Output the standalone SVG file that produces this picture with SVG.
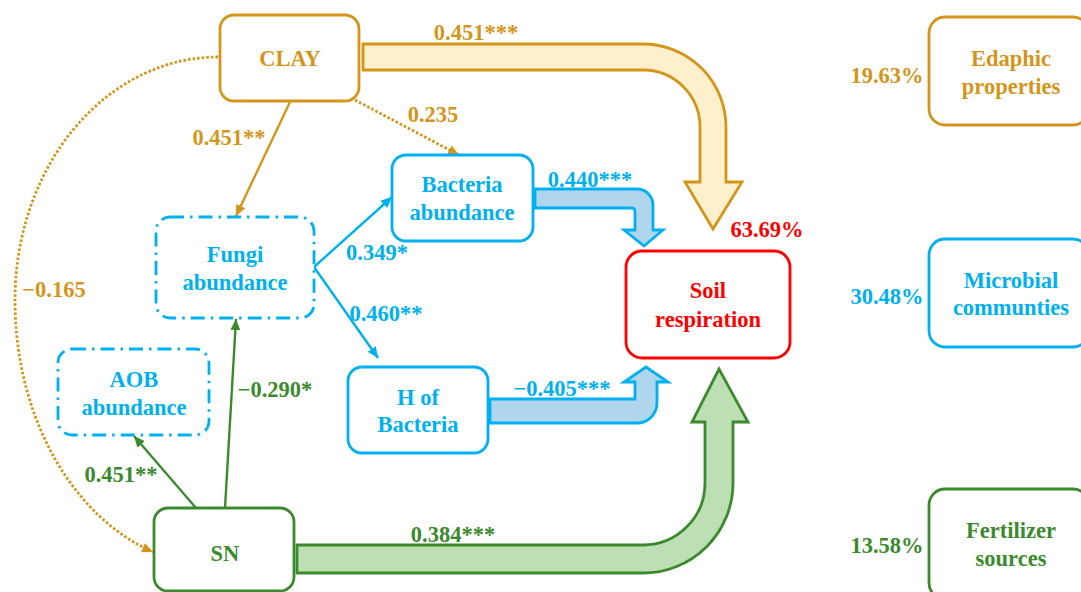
<svg xmlns="http://www.w3.org/2000/svg" width="1081" height="592" viewBox="0 0 1081 592">
<defs>
<style>
text{font-family:"Liberation Serif","Times New Roman",serif;font-weight:bold;font-size:22.5px;text-anchor:middle}
.y{fill:#D4961A}.b{fill:#00B0F0}.g{fill:#3C8A2E}.r{fill:#FF0000}
.box{fill:#fff;stroke-width:2.8}
.ys{stroke:#D4961A}.bs{stroke:#00B0F0}.gs{stroke:#3C8A2E}.rs{stroke:#FF0000}
.dd{stroke-dasharray:14 6 2.5 6}
.ln{fill:none;stroke-width:2.4}
.dot{stroke-dasharray:2.6 2;stroke-width:2.8}
</style>
<marker id="ay" markerWidth="12" markerHeight="10" refX="11" refY="5" orient="auto" markerUnits="userSpaceOnUse"><path d="M0,0 L11,5 L0,10 Z" fill="#D4961A"/></marker>
<marker id="ab" markerWidth="12" markerHeight="10" refX="11" refY="5" orient="auto" markerUnits="userSpaceOnUse"><path d="M0,0 L11,5 L0,10 Z" fill="#00B0F0"/></marker>
<marker id="ag" markerWidth="12" markerHeight="10" refX="11" refY="5" orient="auto" markerUnits="userSpaceOnUse"><path d="M0,0 L11,5 L0,10 Z" fill="#3C8A2E"/></marker>
</defs>
<rect width="1081" height="592" fill="#fff"/>

<g id="connectors">
<path d="M363,44 L643,44 A83,83 0 0 1 726,127 L726,182 L742,182 L713,229 L685,182 L700,182 L700,127 A57,57 0 0 0 643,70 L363,70 Z" fill="#FEEFCD" stroke="#D4961A" stroke-width="2.8"/>
<path d="M297,545 L643,545 A62,62 0 0 0 705,483 L705,422 L692,422 L719,369 L748,422 L733,422 L733,483 A90,90 0 0 1 643,573 L297,573 Z" fill="#BCDFB4" stroke="#3C8A2E" stroke-width="2.8"/>
<path d="M535,189 L637,189 A16,16 0 0 1 653,205 L653,230 L663,230 L644,246 L624,230 L635,230 L635,211 A3,3 0 0 0 632,208 L535,208 Z" fill="#AFD6EC" stroke="#00B0F0" stroke-width="2.8"/>
<path d="M490,399 L635,399 L635,382 L624,382 L646,367 L668,382 L657,382 L657,403 A20,20 0 0 1 637,423 L490,423 Z" fill="#AFD6EC" stroke="#00B0F0" stroke-width="2.8"/>

<line class="ln ys" x1="290" y1="102" x2="236" y2="216" marker-end="url(#ay)"/>
<line class="ln ys dot" x1="355" y1="100" x2="459" y2="155" marker-end="url(#ay)"/>
<path class="ln ys dot" d="M218,57 A203,243 0 0 0 15,300 A203,265 0 0 0 153,552" marker-end="url(#ay)"/>
<line class="ln bs" x1="314" y1="267" x2="392" y2="197" marker-end="url(#ab)"/>
<line class="ln bs" x1="314" y1="267" x2="378" y2="358" marker-end="url(#ab)"/>
<line class="ln gs" x1="196" y1="508" x2="134" y2="436" marker-end="url(#ag)"/>
<line class="ln gs" x1="225" y1="508" x2="236" y2="319" marker-end="url(#ag)"/>

<text class="y" x="476" y="40">0.451***</text>
<text class="y" x="229" y="145">0.451**</text>
<text class="y" x="433" y="122">0.235</text>
<text class="y" x="54" y="297">−0.165</text>
<text class="b" x="377" y="260">0.349*</text>
<text class="b" x="386" y="321">0.460**</text>
<text class="b" x="590" y="187">0.440***</text>
<text class="b" x="562" y="396">−0.405***</text>
<text class="g" x="275" y="397">−0.290*</text>
<text class="g" x="121" y="482">0.451**</text>
<text class="g" x="453" y="542">0.384***</text>
</g>

<g id="clay">
<rect class="box ys" x="220" y="15" width="139" height="86" rx="14"/>
<text class="y" x="290" y="66">CLAY</text>
</g>
<g id="bacteria-abundance">
<rect class="box bs" x="392" y="155" width="141" height="86" rx="14"/>
<text class="b" x="462" y="192">Bacteria</text>
<text class="b" x="462" y="220">abundance</text>
</g>
<g id="fungi-abundance">
<rect class="box bs dd" x="156" y="217" width="158" height="101" rx="14"/>
<text class="b" x="235" y="262">Fungi</text>
<text class="b" x="235" y="290">abundance</text>
</g>
<g id="aob-abundance">
<rect class="box bs dd" x="58" y="349" width="151" height="86" rx="14"/>
<text class="b" x="134" y="387">AOB</text>
<text class="b" x="134" y="415">abundance</text>
</g>
<g id="h-of-bacteria">
<rect class="box bs" x="348" y="367" width="140" height="86" rx="14"/>
<text class="b" x="418" y="405">H of</text>
<text class="b" x="418" y="432">Bacteria</text>
</g>
<g id="sn">
<rect class="box gs" x="154" y="508" width="140" height="83" rx="14"/>
<text class="g" x="225" y="561">SN</text>
</g>
<g id="soil-respiration">
<rect class="box rs" x="626" y="251" width="164" height="107" rx="16"/>
<text class="r" x="708" y="298">Soil</text>
<text class="r" x="708" y="327">respiration</text>
<text class="r" x="767" y="237">63.69%</text>
</g>
<g id="edaphic-properties">
<rect class="box ys" x="929" y="17" width="160" height="108" rx="16"/>
<text class="y" x="1011" y="66">Edaphic</text>
<text class="y" x="1011" y="94">properties</text>
<text class="y" x="887" y="83">19.63%</text>
</g>
<g id="microbial-communities">
<rect class="box bs" x="929" y="239" width="160" height="108" rx="16"/>
<text class="b" x="1011" y="288">Microbial</text>
<text class="b" x="1011" y="315">communties</text>
<text class="b" x="887" y="304">30.48%</text>
</g>
<g id="fertilizer-sources">
<rect class="box gs" x="929" y="489" width="160" height="110" rx="16"/>
<text class="g" x="1011" y="538">Fertilizer</text>
<text class="g" x="1011" y="566">sources</text>
<text class="g" x="887" y="553">13.58%</text>
</g>
</svg>
